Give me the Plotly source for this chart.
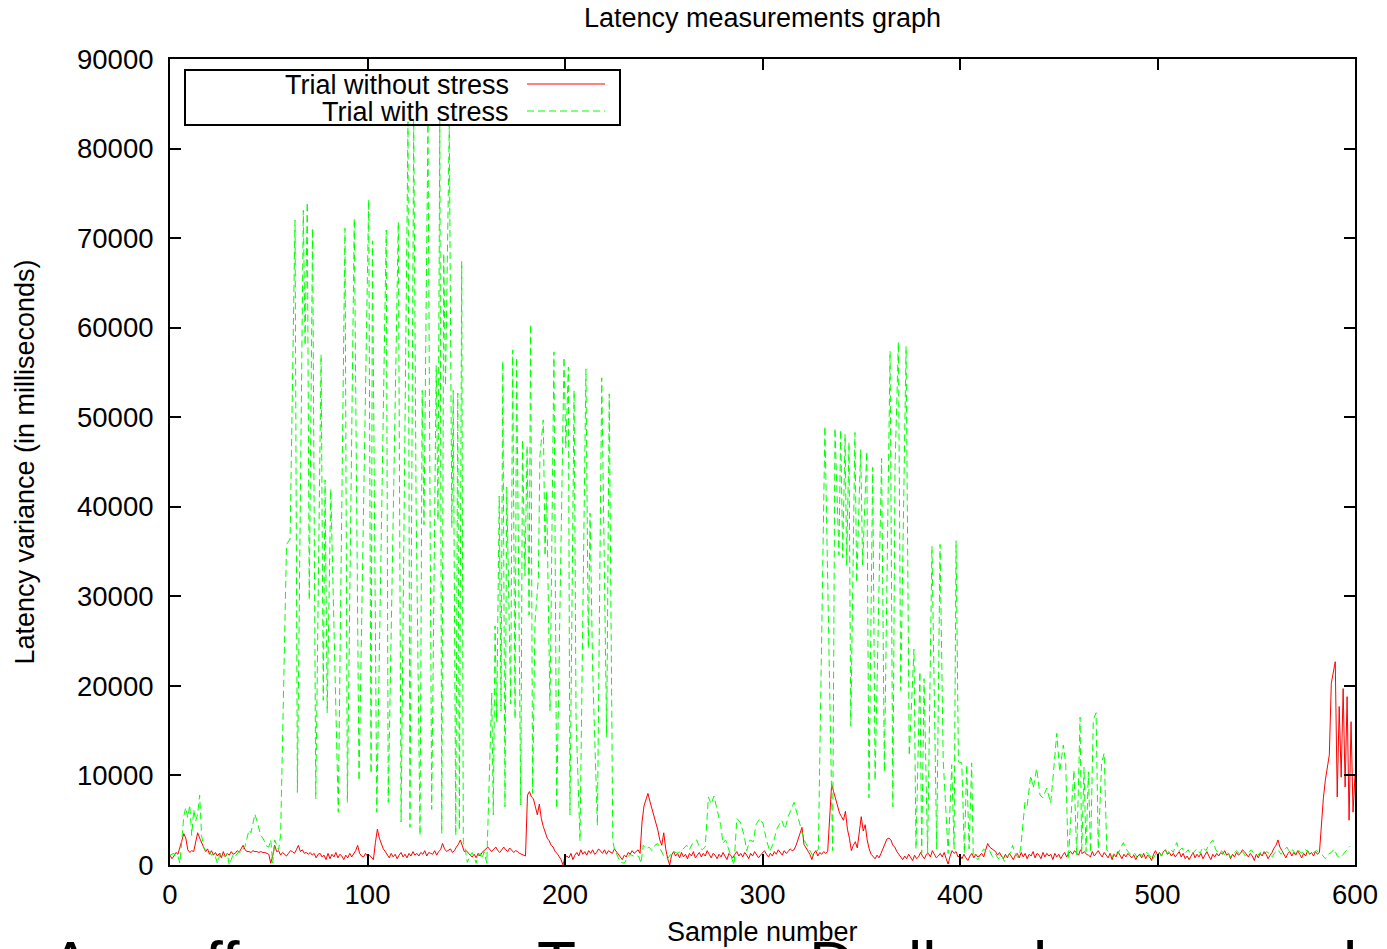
import plotly.graph_objects as go

# ---------------- data ----------------
samples_red = list(range(0, 601))
red_values = [
    1100, 700, 1000, 1400, 1200, 1900, 2600, 3500, 3000, 1700,
    1400, 1600, 1500, 2400, 3600, 3000, 2500, 2100, 1500, 1800,
    1200, 1600, 1100, 1400, 1000, 1300, 800, 1500, 900, 1300,
    1100, 1500, 1200, 1300, 1600, 1400, 1900, 2200, 1700, 1500,
    1500, 1400, 1600, 1500, 1500, 1400, 1500, 1400, 1400, 1300,
    1200, 200, 1000, 2200, 1500, 1600, 1100, 1400, 1200, 1000,
    1300, 1600, 1500, 1300, 1700, 2200, 1500, 1700, 1300, 1400,
    1200, 1400, 1100, 1300, 800, 1200, 1300, 900, 1100, 600,
    1300, 700, 1200, 900, 1400, 800, 1200, 1000, 600, 1100,
    800, 1300, 900, 1200, 1600, 2200, 1300, 1000, 900, 1300,
    1000, 1100, 900, 600, 2500, 4000, 3000, 2300, 1800, 1500,
    1200, 800, 1300, 900, 1200, 700, 1100, 1400, 900, 1200,
    800, 1300, 1000, 1500, 1100, 1300, 1000, 1400, 1200, 1600,
    1000, 1400, 1300, 1200, 1600, 1100, 1500, 1700, 2400, 1800,
    1500, 1700, 1800, 1400, 1600, 2000, 2300, 2800, 2000, 1500,
    1600, 1300, 1100, 900, 1200, 800, 1300, 1000, 1400, 1600,
    1800, 2000, 1700, 1500, 1800, 2000, 1600, 1400, 1700, 2000,
    1700, 1500, 1900, 1600, 1400, 1600, 1500, 1300, 1200, 1100,
    1000, 7800, 8200, 7600, 7400, 6500, 5600, 6800, 5200, 4300,
    3600, 3000, 2700, 2200, 2000, 1500, 1300, 1000, 600, 0,
    900, 1000, 800, 1300, 600, 1100, 1400, 1000, 1700, 1200,
    1500, 1100, 1600, 1300, 1700, 1200, 1400, 1800, 1500, 1300,
    1700, 1200, 1600, 1400, 1300, 1800, 1500, 1200, 1000, 600,
    1100, 900, 1400, 1200, 1600, 1300, 1500, 1700, 1300, 4800,
    6600, 7200, 8000, 7100, 6300, 5600, 4800, 3900, 2800, 2200,
    3600, 1800, 700, 0, 1100, 1500, 1000, 1300, 800, 1400,
    900, 1200, 700, 1300, 1000, 1500, 800, 1100, 1400, 900,
    1300, 1000, 1600, 1200, 800, 1300, 1100, 700, 1200, 900,
    1400, 1000, 600, 1300, 1100, 800, 1200, 1500, 1000, 1300,
    900, 1400, 1100, 700, 1300, 1000, 1500, 1200, 800, 1100,
    1400, 1600, 1200, 900, 1300, 1000, 1500, 1200, 1700, 1400,
    1100, 1600, 1300, 1500, 1800, 1600, 1700, 2200, 2800, 3600,
    4200, 2300, 1900, 1500, 1200, 600, 1300, 1600, 1000, 1400,
    1200, 1500, 1300, 1500, 4800, 9000, 8200, 7400, 6500, 5800,
    5400, 5000, 6000, 4000, 3000, 1600, 2200, 2600, 1900, 4000,
    5400, 3800, 4500, 2800, 1800, 1200, 1000, 700, 1100, 800,
    1300, 1800, 2500, 2900, 3000, 2800, 2200, 2000, 1500, 1200,
    900, 600, 1000, 700, 1200, 800, 500, 1100, 700, 900,
    1400, 1000, 700, 1200, 1300, 900, 1600, 1200, 800, 1000,
    1300, 900, 1400, 700, 100, 1000, 1600, 1300, 1500, 900,
    1100, 700, 1200, 800, 500, 1000, 1300, 800, 1200, 900,
    1100, 1300, 900, 1600, 2400, 2000, 1800, 1600, 1500, 1100,
    1400, 1000, 700, 1200, 800, 1300, 900, 600, 1100, 1300,
    800, 1400, 900, 1300, 700, 1200, 1000, 1500, 800, 1300,
    1100, 700, 1400, 900, 1300, 1000, 1200, 600, 1300, 900,
    1200, 700, 1100, 1400, 900, 1300, 1500, 1200, 1600, 1400,
    1100, 1700, 1300, 1500, 1200, 1100, 900, 1500, 1000, 1300,
    1600, 1200, 900, 1400, 1100, 800, 1300, 600, 1200, 900,
    1500, 1100, 700, 1200, 900, 1300, 1000, 800, 1100, 600,
    1000, 1200, 800, 1300, 700, 1100, 900, 500, 1200, 1600,
    1100, 1400, 1000, 1500, 1700, 1200, 1400, 1000, 1300, 900,
    1200, 1500, 900, 1300, 700, 1000, 600, 1100, 1400, 800,
    1200, 900, 1300, 700, 1100, 1500, 1000, 600, 1200, 900,
    1300, 1000, 1400, 1200, 1600, 1100, 1300, 700, 1200, 900,
    1400, 1100, 1300, 1700, 1500, 1200, 900, 1300, 1000, 500,
    1200, 800, 1300, 1000, 1500, 1200, 700, 1100, 1400, 1900,
    2200, 2800, 2000, 1600, 1200, 800, 1300, 1500, 1000, 1400,
    1100, 1600, 1200, 800, 1300, 1000, 1600, 1200, 1400, 1000,
    1500, 1200, 1400, 4500, 7500, 9500, 11000, 12300, 20300, 21500,
    22700, 7600, 17700, 9800, 19700, 8700, 18800, 5000, 16000, 5900,
    10000,
]

samples_green = [
    0, 2, 3, 4, 5, 6, 7, 8, 9, 10, 11, 12, 13, 14, 15, 16, 17, 18, 19, 20,
    21, 22, 23, 24, 25, 26, 27, 28, 29, 30, 31, 32, 33, 34, 35, 36, 37, 38, 39, 40,
    41, 42, 43, 44, 45, 46, 47, 48, 49, 50, 51, 52, 53, 54, 55, 56,
    59, 60.8, 63.3, 64.5, 67.5, 68.4, 69.5, 70.5, 72.2, 73.8, 76.5, 77.6, 78.5, 79.6,
    81.4, 85.2, 88.6, 89.8, 93.3, 95.7, 100.6, 101.8, 102.5, 104.7, 109.5, 110.5,
    115.6, 117.0, 120.5, 121.5, 123.4, 124.6, 126.6, 127.7, 128.6, 130.6, 132.5,
    134.8, 135.7, 136.6, 137.6, 138.6, 139.5, 141.4, 142.7, 143.4, 144.7, 145.7,
    146.5, 147.7, 148.5,
    149.5, 150.5, 152, 153, 154, 155, 156, 157, 158, 159, 160.4,
    162.9, 163.7, 164.6, 165.4, 166.7, 167.6, 168.5, 169.6, 170.5, 172.5, 173.5,
    174.7, 175.5, 177.6, 178.5, 179.7, 180.8, 181.8, 182.6, 183.6, 184.8, 186.5,
    187.3, 189.0, 189.9, 190.7, 192.4, 194.4, 195.8, 199.5, 200.4, 201.7, 202.5,
    204.6, 205.6, 207.6, 210.6, 211.8, 212.7, 214.0, 216.4, 218.6, 220.3, 221.1,
    222.4, 224.2,
    225, 226.5, 228, 230, 231.5, 233, 234.5, 236, 237.5, 238.5, 239.6, 241, 242.5,
    244, 245.5, 247, 248.5, 250, 252, 253.5, 255, 257, 259, 260.5, 261.6, 263,
    264.5, 266.7, 268, 269.5, 271, 272.6, 274, 275.4, 277, 278.8, 280, 281.3,
    282.5, 284, 285.6, 287, 288.7, 290.7, 292, 293.7, 295.3, 296.7, 298.7, 300.3,
    302, 303.7, 305.4, 307.2, 309.7, 311.4, 313, 316, 317.2, 319, 321, 323, 325.3,
    327.5, 328.3,
    331.6, 335.5, 336.7, 338.7, 339.6, 340.6, 341.8, 342.6, 343.8, 344.7, 346.8,
    347.7, 349.7, 350.7, 352.8, 353.9, 355.8, 357.0, 359.0, 360.3, 361.7, 364.6,
    366.0, 367.1, 368.8, 370.0, 372.7, 374.3, 376.7, 377.7, 379.7, 380.6, 381.8,
    383.6, 385.8, 388.2, 389.9, 391.5, 394.0, 395.8, 397.0, 398.0, 399.2, 400.9,
    402.2, 403.4, 404.6, 405.9, 406.7,
    407.5, 409, 410.5, 412, 413.5, 415, 416.5, 418, 419.5, 421, 422.5, 424, 425.5,
    426.6, 428, 429.5, 430.7, 432.9, 434, 435.8, 437.1, 438.8, 440.5, 442, 443.9,
    445.9, 447, 449, 450.5, 452.3, 453.5, 454.8, 457.7, 459.1, 460.8, 461.6, 462.8,
    463.8, 465, 466.1, 467.5, 468.9, 470, 471.7, 473, 474.3,
    475.5, 477, 478.5, 480, 481.5, 482.7, 484, 485.5, 487, 488.5, 490, 491.5, 493,
    494.5, 496, 497.5, 499, 500.5, 502, 503.5, 505, 506.5, 508, 509.7, 511, 512.5,
    514, 515.5, 517, 518.5, 520, 521.5, 523, 524.5, 526, 528, 529.5, 531, 532.5,
    534, 535.5, 537, 538.5, 540, 541.5, 543, 544.5, 546, 547.5, 549, 550.5, 552,
    553.5, 555, 556.5, 558, 559.5, 561, 562.5, 564, 565.5, 567, 568.5, 570, 571.5,
    573, 574.5, 576, 577.5, 579, 580.5, 582, 583.5, 585, 586.5, 588, 589.5, 591,
    592.5, 594, 595.5, 597.5,
]
green_values = [
    1100, 1300, 900, 1000, 200, 2800, 5500, 6400, 5300, 6700, 3300, 6200, 4900, 5700, 7800, 3300, 2000, 1600, 1300, 1500,
    1100, 1300, 900, 200, 1000, 1400, 1200, 900, 1300, 0, 600, 1200, 1000, 1300, 1500, 1400, 1800, 2100, 3000, 3900,
    3600, 4800, 5700, 4900, 4200, 3300, 3000, 2600, 2100, 2000, 2800, 200, 2800, 2200, 1700, 3300,
    35800, 36400, 72000, 8100, 73100, 58000, 74000, 29600, 71100, 7400, 57000, 18400, 43000, 17000,
    42000, 5900, 71100, 7000, 72200, 9400, 74300, 10200, 69700, 5900, 70900, 7000,
    71800, 4800, 83000, 4200, 83200, 40400, 3300, 53000, 38000, 82800, 6200,
    55800, 38500, 83200, 3500, 68300, 53500, 82600, 37700, 53000, 3300, 52700,
    3900, 67400, 2500,
    1800, 300, 1100, 1400, 900, 200, 1000, 1300, 700, 1500, 200,
    19200, 5600, 26700, 16000, 41200, 17200, 56300, 6500, 42200, 18000, 57500,
    16300, 56700, 6700, 47500, 32300, 46800, 27900, 60400, 8000, 27100, 32000,
    45700, 49700, 34500, 41700, 17200, 57300, 6300, 56700, 46600, 55600, 5600,
    53000, 16300, 2700, 55400, 24200, 39300, 21800, 4400, 54400, 27600, 14300,
    52600, 2700,
    1800, 1000, 300, 200, 800, 1200, 1000, 1100, 900, 200, 2200, 1800, 2000,
    1600, 2200, 2400, 1600, 1000, 700, 1200, 1500, 1300, 1600, 1900, 2200, 1700,
    2400, 2800, 2000, 1700, 2000, 7600, 6800, 7700, 6000, 4500, 2400, 2800,
    2000, 1100, 0, 5200, 4800, 3300, 1600, 2800, 2600, 4500, 5200, 4600,
    2800, 1500, 2400, 4000, 5000, 4000, 5400, 7000, 6000, 4500, 2800, 2000, 1100,
    1500, 1800,
    49000, 1600, 48800, 34600, 48600, 34300, 48100, 33500, 47200, 15500, 48300,
    31500, 46400, 33500, 46200, 7500, 44400, 9400, 31100, 45400, 10400, 57400,
    6500, 44400, 58400, 19500, 57900, 12200, 24100, 1800, 21600, 1300, 20800,
    1300, 35600, 1800, 35800, 11700, 1300, 11200, 1800, 36200, 11500, 11400,
    1300, 11200, 1800, 11400, 1300,
    1000, 600, 1200, 1800, 1400, 1600, 900, 1200, 700, 1100, 400, 1000, 1300,
    2200, 1200, 800, 1800, 7000, 6600, 10000, 8600, 10800, 7800, 7500, 8600,
    6900, 9500, 14700, 10400, 13400, 11500, 600, 10600, 1100, 16500, 1200, 10900,
    1500, 10400, 1400, 16200, 17000, 1800, 11400, 12500, 1700,
    1300, 900, 1500, 1200, 2000, 2500, 1800, 1400, 1000, 1300, 700, 1200, 900,
    1400, 1100, 600, 1200, 1500, 1000, 1700, 1300, 1800, 1400, 2500, 1600, 1900,
    1300, 1700, 1100, 1500, 1800, 1300, 2000, 1600, 2200, 2800, 1700, 1300, 1600,
    1100, 1400, 900, 1300, 1600, 1200, 1500, 1000, 1300, 1700, 1200, 1000, 1400,
    1100, 1500, 1300, 900, 1400, 1700, 1200, 1600, 2000, 1400, 1700, 1200, 1600,
    1300, 1800, 1500, 1100, 1400, 1600, 1300, 1100, 700, 1200, 1400, 1800, 1000,
    800, 1200, 1600, 2100,
]

series_names = ["Trial without stress", "Trial with stress"]
x_ticks = [0, 100, 200, 300, 400, 500, 600]
y_ticks = [0, 10000, 20000, 30000, 40000, 50000, 60000, 70000, 80000, 90000]
x_title = "Sample number"
y_title = "Latency variance (in milliseconds)"
chart_title = "Latency measurements graph"
bottom_glyphs = ["A", "ff", "T", "D", "ll", "l", "l"]
bottom_glyph_px = [70, 222, 556, 832, 922, 1040, 1350]

# ---------------- figure ----------------
FONT = "Liberation Sans, Arial, sans-serif"
PAGE_OFFSET = 8                 # default body margin of the html page
W, H = 1387 - PAGE_OFFSET, 949 - PAGE_OFFSET
PLOT_L, PLOT_R, PLOT_T, PLOT_B = 170, 1355, 59, 865   # plot box in screenshot pixels
L = PLOT_L - PAGE_OFFSET
T = PLOT_T - PAGE_OFFSET
pw, ph = PLOT_R - PLOT_L, PLOT_B - PLOT_T
R = W - L - pw
B = H - T - ph

def px2paper_x(px):
    return (px - PLOT_L) / pw

def px2paper_y(py):
    return (PLOT_B - py) / ph

fig = go.Figure()
fig.add_trace(go.Scatter(
    x=samples_red, y=red_values, mode="lines", name=series_names[0],
    line=dict(color="#ff0000", width=1), showlegend=False,
))
fig.add_trace(go.Scatter(
    x=samples_green, y=green_values, mode="lines", name=series_names[1],
    line=dict(color="#00ff00", width=1, dash="7px,4px"), showlegend=False,
))

TXT = 27
axis_common = dict(
    showline=True, linecolor="black", linewidth=2, mirror="ticks",
    ticks="inside", ticklen=11, tickwidth=2, tickcolor="black",
    showgrid=False, zeroline=False, automargin=False,
    tickfont=dict(family=FONT, size=27.5, color="black"),
)
fig.update_xaxes(range=[0, 600], tickmode="array", tickvals=x_ticks,
                 ticktext=[str(v) for v in x_ticks], ticklabelstandoff=4,
                 **axis_common)
fig.update_yaxes(range=[0, 90000], tickmode="array", tickvals=y_ticks,
                 ticktext=[str(v) for v in y_ticks], ticklabelstandoff=9,
                 title=dict(text=y_title, font=dict(family=FONT, size=TXT, color="black"), standoff=35),
                 **axis_common)

# custom gnuplot-like key (text left of sample line)
shapes = [
    dict(type="rect", xref="paper", yref="paper",
         x0=px2paper_x(185), x1=px2paper_x(620), y0=px2paper_y(125), y1=px2paper_y(70),
         line=dict(color="black", width=2), fillcolor="rgba(0,0,0,0)", layer="above"),
    dict(type="line", xref="paper", yref="paper",
         x0=px2paper_x(527), x1=px2paper_x(605), y0=px2paper_y(84), y1=px2paper_y(84),
         line=dict(color="#ff0000", width=1)),
    dict(type="line", xref="paper", yref="paper",
         x0=px2paper_x(527), x1=px2paper_x(605), y0=px2paper_y(111), y1=px2paper_y(111),
         line=dict(color="#00ff00", width=1, dash="7px,4px")),
]
annotations = [
    dict(text=series_names[0], xref="paper", yref="paper", x=px2paper_x(511), y=px2paper_y(85),
         xanchor="right", yanchor="middle", showarrow=False,
         font=dict(family=FONT, size=TXT, color="black")),
    dict(text=series_names[1], xref="paper", yref="paper", x=px2paper_x(511), y=px2paper_y(112),
         xanchor="right", yanchor="middle", showarrow=False,
         font=dict(family=FONT, size=TXT, color="black")),
    dict(text=x_title, xref="paper", yref="paper", x=0.5, y=px2paper_y(932),
         xanchor="center", yanchor="middle", showarrow=False,
         font=dict(family=FONT, size=TXT, color="black")),
]
for g, gx in zip(bottom_glyphs, bottom_glyph_px):
    annotations.append(dict(text=g, xref="paper", yref="paper", x=px2paper_x(gx), y=px2paper_y(927),
                            xanchor="center", yanchor="top", showarrow=False,
                            font=dict(family=FONT, size=64, color="black")))

fig.update_layout(
    width=W, height=H, autosize=False,
    margin=dict(l=L, r=R, t=T, b=B, pad=0),
    paper_bgcolor="white", plot_bgcolor="white",
    title=dict(text=chart_title, x=0.5, xref="paper", xanchor="center",
               y=1 - (18 - PAGE_OFFSET) / H, yref="container", yanchor="middle",
               font=dict(family=FONT, size=TXT, color="black")),
    shapes=shapes, annotations=annotations,
    font=dict(family=FONT, color="black"),
)

fig.write_html("out.html")
